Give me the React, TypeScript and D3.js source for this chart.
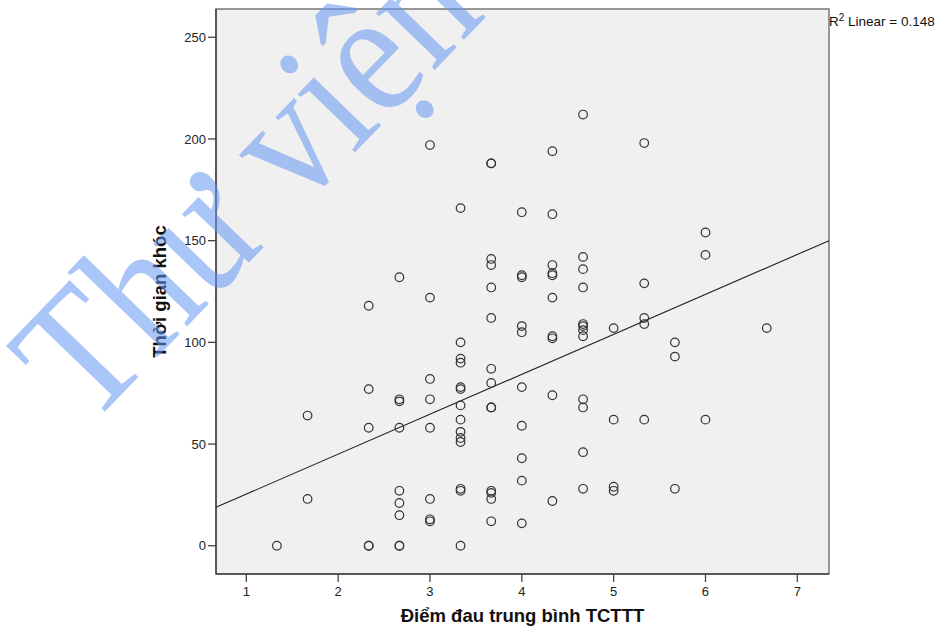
import React from "react";
import * as d3 from "d3";

// Pain score (x) and crying time (y) for each observation
const painScore: number[] = [
  1.333,
  1.667, 1.667,
  2.333, 2.333, 2.333, 2.333, 2.333,
  2.667, 2.667, 2.667, 2.667, 2.667, 2.667, 2.667, 2.667, 2.667,
  3, 3, 3, 3, 3, 3, 3, 3,
  3.333, 3.333, 3.333, 3.333, 3.333, 3.333, 3.333, 3.333, 3.333, 3.333, 3.333, 3.333, 3.333, 3.333,
  3.667, 3.667, 3.667, 3.667, 3.667, 3.667, 3.667, 3.667, 3.667, 3.667, 3.667, 3.667, 3.667, 3.667,
  4, 4, 4, 4, 4, 4, 4, 4, 4, 4,
  4.333, 4.333, 4.333, 4.333, 4.333, 4.333, 4.333, 4.333, 4.333, 4.333,
  4.667, 4.667, 4.667, 4.667, 4.667, 4.667, 4.667, 4.667, 4.667, 4.667, 4.667, 4.667,
  5, 5, 5, 5,
  5.333, 5.333, 5.333, 5.333, 5.333,
  5.667, 5.667, 5.667,
  6, 6, 6,
  6.667,
];
const cryTime: number[] = [
  0,
  64, 23,
  118, 77, 58, 0, 0,
  132, 72, 71, 58, 27, 21, 15, 0, 0,
  197, 122, 82, 72, 58, 23, 13, 12,
  166, 100, 92, 90, 78, 77, 69, 62, 56, 53, 51, 28, 27, 0,
  188, 188, 141, 138, 127, 112, 87, 80, 68, 68, 27, 26, 23, 12,
  164, 133, 132, 108, 105, 78, 59, 43, 32, 11,
  194, 163, 138, 134, 133, 122, 103, 102, 74, 22,
  212, 142, 136, 127, 109, 108, 106, 103, 72, 68, 46, 28,
  107, 62, 29, 27,
  198, 129, 112, 109, 62,
  100, 93, 28,
  154, 143, 62,
  107,
];

const xTicks: number[] = [1, 2, 3, 4, 5, 6, 7];
const yTicks: number[] = [0, 50, 100, 150, 200, 250];
const xDomain: number[] = [0.67, 7.345];
const yDomain: number[] = [-13.9, 263.9];

// Linear fit
const fitIntercept = 5.74;
const fitSlope = 19.64;
const rSquaredLabel = "0.148";

const xTitle = "Điểm đau trung bình TCTTT";
const yTitle = "Thời gian khóc";
const watermark = "Thư viện";

export default function App() {
  const W = 940, H = 632;
  const left = 216, right = 829, top = 9, bottom = 574;
  const x = d3.scaleLinear().domain(xDomain).range([left, right]);
  const y = d3.scaleLinear().domain(yDomain).range([bottom, top]);
  const line = d3.line<number>().x((d) => x(d)).y((d) => y(fitIntercept + fitSlope * d));
  const font = "Arial, 'Liberation Sans', sans-serif";

  return (
    <svg width={W} height={H} style={{ position: "absolute", left: 0, top: 0, background: "#fff" }}>
      <rect x={left} y={top} width={right - left} height={bottom - top} fill="#f0f0f0" stroke="#777" strokeWidth={1.5} />
      <line x1={left} x2={left} y1={top} y2={bottom} stroke="#444" strokeWidth={1.5} />
      <line x1={left} x2={right} y1={bottom} y2={bottom} stroke="#444" strokeWidth={1.5} />
      {yTicks.map((t) => (
        <g key={"y" + t}>
          <line x1={left - 8} x2={left} y1={y(t)} y2={y(t)} stroke="#444" strokeWidth={1.3} />
          <text x={left - 10} y={y(t)} dy="0.35em" textAnchor="end" fontFamily={font} fontSize={13} fill="#222">{t}</text>
        </g>
      ))}
      {xTicks.map((t) => (
        <g key={"x" + t}>
          <line x1={x(t)} x2={x(t)} y1={bottom} y2={bottom + 8} stroke="#444" strokeWidth={1.3} />
          <text x={x(t)} y={bottom + 22} textAnchor="middle" fontFamily={font} fontSize={13} fill="#222">{t}</text>
        </g>
      ))}
      <path d={line(xDomain) || ""} fill="none" stroke="#222" strokeWidth={1.1} />
      {painScore.map((v, i) => (
        <circle key={i} cx={x(v)} cy={y(cryTime[i])} r={4.3} fill="none" stroke="#333" strokeWidth={1.2} />
      ))}
      <text x={(left + right) / 2} y={622} textAnchor="middle" fontFamily={font} fontWeight="bold" fontSize={18.5} fill="#111">{xTitle}</text>
      <text transform={`translate(166, ${(top + bottom) / 2}) rotate(-90)`} textAnchor="middle" fontFamily={font} fontWeight="bold" fontSize={18.5} fill="#111">{yTitle}</text>
      <text x={829} y={26} fontFamily={font} fontSize={13.5} fill="#111">
        R<tspan dy={-5} fontSize={10}>2</tspan><tspan dy={5}> Linear = {rSquaredLabel}</tspan>
      </text>
      <text transform="translate(88, 429) rotate(-46)" fontFamily="'Liberation Serif', 'Times New Roman', serif" fontSize={178} textLength={575} lengthAdjust="spacingAndGlyphs" fill="rgb(100,150,240)" fillOpacity={0.55}>{watermark}</text>
    </svg>
  );
}
